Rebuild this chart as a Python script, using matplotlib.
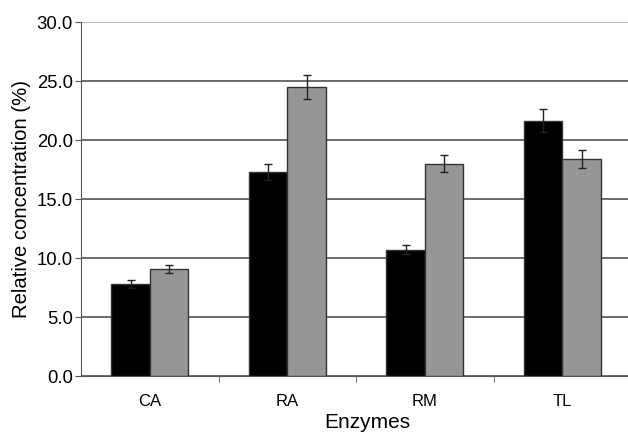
import matplotlib
matplotlib.use('Agg')
import matplotlib.pyplot as plt
import numpy as np

plt.rcParams['font.family'] = ['Liberation Sans', 'DejaVu Sans']

# datos
enzymes = ['CA', 'RA', 'RM', 'TL']
black_vals = [7.8, 17.3, 10.7, 21.65]
black_err = [0.3, 0.7, 0.4, 0.95]
grey_vals = [9.1, 24.5, 18.0, 18.4]
grey_err = [0.35, 1.0, 0.7, 0.75]

fig = plt.figure(figsize=(6.28, 4.34), dpi=100)
ax = fig.add_axes([0.129, 0.1336, 0.876, 0.8156])

x = np.arange(len(enzymes))
w = 0.28
err_kw = dict(ecolor='#222222', elinewidth=1, capsize=3, capthick=1)
ax.bar(x - w/2, black_vals, w, yerr=black_err, color='black',
       edgecolor='#333333', linewidth=1, error_kw=err_kw, zorder=3)
ax.bar(x + w/2, grey_vals, w, yerr=grey_err, color='#969696',
       edgecolor='#333333', linewidth=1, error_kw=err_kw, zorder=3)

ax.set_ylim(0, 30)
ax.set_xlim(-0.5, len(enzymes) - 0.5)
ax.set_yticks(np.arange(0, 31, 5))
ax.set_yticklabels([f'{v:.1f}' for v in np.arange(0, 31, 5)])
ax.set_xticks(x)
ax.set_xticklabels(enzymes)
ax.set_xticks(np.arange(0.5, len(enzymes) - 0.5, 1), minor=True)

ax.yaxis.grid(True, color='#444444', linewidth=1.1)
ax.set_axisbelow(True)
ax.get_ygridlines()[-1].set_color('#aaaaaa')
for s in ['top', 'right']:
    ax.spines[s].set_visible(False)
ax.spines['left'].set_color('#555555')
ax.spines['bottom'].set_color('#555555')

ax.tick_params(axis='y', labelsize=13.3, length=4, color='#555555', pad=2)
ax.tick_params(axis='x', which='major', length=0, labelsize=12, pad=13)
ax.tick_params(axis='x', which='minor', length=4, color='#555555')

ax.set_ylabel('Relative concentration (%)', fontsize=14.6, labelpad=4)
ax.set_xlabel('Enzymes', fontsize=15)
ax.xaxis.set_label_coords(0.52, -0.104)

plt.savefig('out.png', dpi=100)
